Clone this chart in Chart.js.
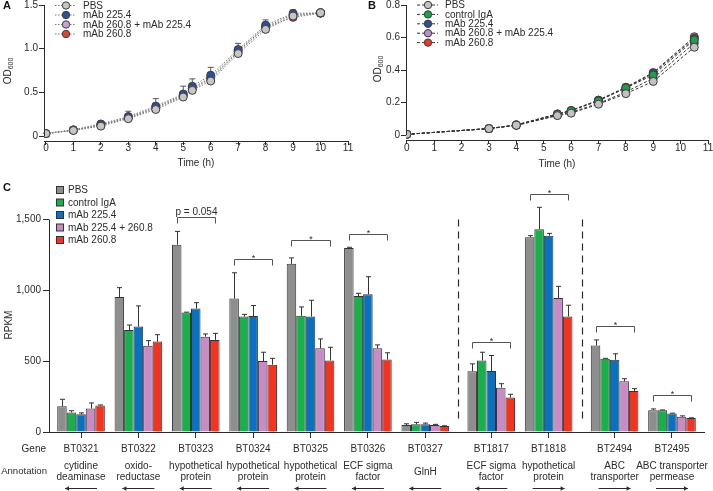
<!DOCTYPE html>
<html>
<head>
<meta charset="utf-8">
<script src="https://cdn.jsdelivr.net/npm/chart.js@4.4.1/dist/chart.umd.min.js"></script>
<style>
  body { margin: 0; background: #fff; width: 713px; height: 491px; position: relative; overflow: hidden; }
  canvas { position: absolute; }
  #chartA { left: 0; top: 0; }
  #chartB { left: 355px; top: 0; }
  #chartC { left: 0; top: 170px; }
</style>
</head>
<body>
<canvas id="chartA" width="355" height="170"></canvas>
<canvas id="chartB" width="358" height="170"></canvas>
<canvas id="chartC" width="713" height="321"></canvas>
<script>
// ---- Panel A: growth curves ----
const timeA = [0, 1, 2, 3, 4, 5, 5.33, 6, 7, 8, 9, 10];
const pbsA    = [0.03, 0.065, 0.115, 0.200, 0.305, 0.448, 0.524, 0.631, 0.945, 1.221, 1.374, 1.410];
const mab225A = [0.03, 0.073, 0.140, 0.225, 0.344, 0.482, 0.570, 0.697, 0.991, 1.270, 1.404, 1.410];
const comboA  = [0.03, 0.070, 0.130, 0.215, 0.330, 0.470, 0.550, 0.670, 0.975, 1.250, 1.390, 1.410];
const mab260A = [0.03, 0.068, 0.125, 0.210, 0.320, 0.460, 0.540, 0.655, 0.964, 1.245, 1.359, 1.405];
const errA225 = [0.005, 0.01, 0.02, 0.06, 0.085, 0.09, 0.085, 0.09, 0.07, 0.06, 0.04, 0.01];
const xTicksA = [0, 1, 2, 3, 4, 5, 6, 7, 8, 9, 10, 11];
const yTicksA = [0, 0.5, 1.0, 1.5];

// ---- Panel B: growth curves ----
const timeB = [0, 3, 4, 5.5, 6, 7, 8, 9, 10.5];
const pbsB    = [0.005, 0.040, 0.060, 0.120, 0.135, 0.190, 0.255, 0.330, 0.540];
const igaB    = [0.005, 0.040, 0.062, 0.128, 0.150, 0.210, 0.290, 0.370, 0.585];
const mab225B = [0.005, 0.040, 0.062, 0.130, 0.150, 0.215, 0.290, 0.380, 0.595];
const comboB  = [0.005, 0.041, 0.063, 0.130, 0.152, 0.215, 0.295, 0.385, 0.605];
const mab260B = [0.005, 0.040, 0.060, 0.122, 0.140, 0.195, 0.265, 0.350, 0.565];
const xTicksB = [0, 1, 2, 3, 4, 5, 6, 7, 8, 9, 10, 11];
const yTicksB = [0, 0.2, 0.4, 0.6, 0.8];

// ---- Panel C: RPKM bars ----
const genes = ['BT0321', 'BT0322', 'BT0323', 'BT0324', 'BT0325', 'BT0326', 'BT0327', 'BT1817', 'BT1818', 'BT2494', 'BT2495'];
const annotations = [
  ['cytidine', 'deaminase'], ['oxido-', 'reductase'], ['hypothetical', 'protein'], ['hypothetical', 'protein'],
  ['hypothetical', 'protein'], ['ECF sigma', 'factor'], ['GlnH'], ['ECF sigma', 'factor'],
  ['hypothetical', 'protein'], ['ABC', 'transporter'], ['ABC transporter', 'permease']
];
const strand = [-1, -1, -1, -1, -1, -1, -1, -1, 1, 1, 1];
const sectionOf = [0, 0, 0, 0, 0, 0, 0, 1, 1, 2, 2];

const pbsC    = [182, 953, 1322, 942, 1187, 1299, 49, 428, 1374, 610, 154];
const igaC    = [138, 720, 843, 815, 820, 960, 54, 505, 1432, 517, 154];
const mab225C = [126, 745, 871, 818, 815, 972, 54, 430, 1386, 510, 131];
const comboC  = [166, 608, 673, 501, 591, 591, 49, 313, 946, 358, 107];
const mab260C = [187, 638, 650, 475, 505, 512, 42, 243, 815, 290, 98];
const pbsSd    = [49, 66, 94, 182, 42, 5, 9, 53, 12, 40, 9];
const igaSd    = [12, 35, 3, 15, 63, 19, 14, 58, 154, 3, 2];
const mab225Sd = [9, 145, 42, 75, 115, 124, 9, 110, 16, 42, 2];
const comboSd  = [39, 37, 19, 62, 66, 24, 5, 28, 82, 18, 7];
const mab260Sd = [4, 49, 46, 45, 93, 47, 2, 23, 80, 16, 2];
const yTicksC = [0, 500, 1000, 1500];

const sigGenes   = ['BT0323', 'BT0324', 'BT0325', 'BT0326', 'BT1817', 'BT1818', 'BT2494', 'BT2495'];
const sigHeights = [1521, 1222, 1353, 1400, 633, 1678, 750, 264];
const sigLabels  = ['p = 0.054', '*', '*', '*', '*', '*', '*', '*'];

const FONT = '"Liberation Sans", Arial, Helvetica, sans-serif';
const INK = '#2b2b2b';
const SECTION_GAP = 0.15;
const genePos = genes.map((g, i) => i + sectionOf[i] * SECTION_GAP);

function drawOD(ctx, x, y) {
  ctx.save();
  ctx.translate(x, y);
  ctx.rotate(-Math.PI / 2);
  ctx.fillStyle = INK;
  ctx.textBaseline = 'middle';
  ctx.textAlign = 'left';
  ctx.font = '10px ' + FONT;
  const w1 = ctx.measureText('OD').width;
  ctx.font = '7px ' + FONT;
  const w2 = ctx.measureText('600').width;
  const sx = -(w1 + w2) / 2;
  ctx.font = '10px ' + FONT;
  ctx.fillText('OD', sx, 0);
  ctx.font = '7px ' + FONT;
  ctx.fillText('600', sx + w1, 3);
  ctx.restore();
}

// error bars + axis line + legend for the growth panels
const growthDecor = {
  id: 'growthDecor',
  beforeDatasetsDraw(chart, args, o) {
    const ctx = chart.ctx, xs = chart.scales.x, ys = chart.scales.y;
    ctx.save();
    ctx.strokeStyle = '#555';
    ctx.lineWidth = 1;
    chart.data.datasets.forEach(ds => {
      if (!ds.errors) return;
      ds.data.forEach((p, i) => {
        const e = ds.errors[i];
        if (!e) return;
        const x = xs.getPixelForValue(p.x);
        const y0 = ys.getPixelForValue(p.y), y1 = ys.getPixelForValue(p.y + e);
        ctx.beginPath();
        ctx.moveTo(x, y0); ctx.lineTo(x, y1);
        ctx.moveTo(x - 3, y1); ctx.lineTo(x + 3, y1);
        ctx.stroke();
      });
    });
    ctx.restore();
  },
  afterDraw(chart, args, o) {
    const ctx = chart.ctx, ys = chart.scales.y, area = chart.chartArea;
    ctx.save();
    ctx.strokeStyle = INK;
    ctx.lineWidth = 1;
    const ax = Math.round(area.left) + 0.5;
    ctx.beginPath();
    ctx.moveTo(ax, ys.getPixelForValue(o.yTop));
    ctx.lineTo(ax, ys.getPixelForValue(0));
    ctx.stroke();

    ctx.fillStyle = '#111';
    ctx.font = 'bold 11px ' + FONT;
    ctx.textAlign = 'left';
    ctx.textBaseline = 'middle';
    ctx.fillText(o.letter, o.letterX, o.letterY);
    drawOD(ctx, o.odX, o.odY);

    chart.data.datasets.forEach((ds, i) => {
      const y = o.legendY + i * o.legendDy;
      ctx.setLineDash(ds.borderDash);
      ctx.strokeStyle = ds.borderColor;
      ctx.beginPath();
      ctx.moveTo(o.legendX, y); ctx.lineTo(o.legendX + 21, y);
      ctx.stroke();
      ctx.setLineDash([]);
      ctx.fillStyle = ds.pointBackgroundColor;
      ctx.strokeStyle = ds.pointBorderColor;
      ctx.beginPath();
      ctx.arc(o.legendX + 11, y, 3.7, 0, Math.PI * 2);
      ctx.fill(); ctx.stroke();
      ctx.fillStyle = INK;
      ctx.font = '10px ' + FONT;
      ctx.fillText(ds.label, o.legendX + 28, y + 0.5);
    });
    ctx.restore();
  }
};

function growthSet(label, ts, vals, color, dash, lineColor, errors) {
  return {
    label, data: ts.map((t, i) => ({ x: t, y: vals[i] })),
    borderColor: lineColor, borderWidth: 1, borderDash: dash, tension: 0,
    pointRadius: 4, pointBackgroundColor: color, pointBorderColor: '#3c3c3c', pointBorderWidth: 1,
    errors
  };
}

function growthOptions(p) {
  return {
    responsive: false, animation: false, devicePixelRatio: 1,
    layout: { padding: p.padding },
    plugins: { legend: { display: false }, tooltip: { enabled: false }, growthDecor: p.decor },
    scales: {
      x: {
        type: 'linear', min: p.xMin, max: 11,
        afterBuildTicks: s => { s.ticks = p.xTicks.map(v => ({ value: v })); },
        afterFit: s => { s.height = p.xHeight; },
        grid: { drawOnChartArea: false, tickLength: 4, color: INK },
        border: { display: true, color: INK, width: 1 },
        ticks: { font: { family: FONT, size: 10, lineHeight: 1 }, color: INK, padding: p.xPad, maxRotation: 0, autoSkip: false },
        title: { display: true, text: 'Time (h)', font: { family: FONT, size: 10 }, color: INK, padding: { top: 0, bottom: 0 } }
      },
      y: {
        min: p.yMin, max: p.yMax,
        afterBuildTicks: s => { s.ticks = p.yTicks.map(v => ({ value: v })); },
        afterFit: s => { s.width = p.yWidth; },
        grid: { drawOnChartArea: false, tickLength: 5, color: INK },
        border: { display: false },
        ticks: {
          font: { family: FONT, size: 10, lineHeight: 0.6 }, color: INK, padding: 1,
          callback: v => (v === 0 ? '0' : v.toFixed(1))
        }
      }
    }
  };
}

new Chart(document.getElementById('chartA'), {
  type: 'line',
  data: {
    datasets: [
      growthSet('PBS', timeA, pbsA, '#c6c6c6', [1.5, 1.5], '#777'),
      growthSet('mAb 225.4', timeA, mab225A, '#2f4f9c', [1.5, 1.5], '#777', errA225),
      growthSet('mAb 260.8 + mAb 225.4', timeA, comboA, '#c9a2d3', [1.5, 1.5], '#777'),
      growthSet('mAb 260.8', timeA, mab260A, '#e2452f', [1.5, 1.5], '#777')
    ]
  },
  options: growthOptions({
    padding: { left: 0, right: 7, top: 5, bottom: 1 },
    xMin: -0.07, xTicks: xTicksA, xHeight: 28, xPad: -1.5,
    yMin: -0.055, yMax: 1.5, yTicks: yTicksA, yWidth: 44,
    decor: { yTop: 1.5, letter: 'A', letterX: 3, letterY: 6, odX: 8, odY: 71, legendX: 55, legendY: 5.5, legendDy: 9.5 }
  }),
  plugins: [growthDecor]
});

new Chart(document.getElementById('chartB'), {
  type: 'line',
  data: {
    datasets: [
      growthSet('PBS', timeB, pbsB, '#c2c2c2', [3, 2], '#333'),
      growthSet('control IgA', timeB, igaB, '#1f9e4a', [3, 2], '#333'),
      growthSet('mAb 225.4', timeB, mab225B, '#2d4f96', [3, 2], '#333'),
      growthSet('mAb 260.8 + mAb 225.4', timeB, comboB, '#b98fcb', [3, 2], '#333'),
      growthSet('mAb 260.8', timeB, mab260B, '#df3b2a', [3, 2], '#333')
    ]
  },
  options: growthOptions({
    padding: { left: 0, right: 4, top: 3, bottom: 0 },
    xMin: -0.03, xTicks: xTicksB, xHeight: 30, xPad: -1,
    yMin: -0.03, yMax: 0.8, yTicks: yTicksB, yWidth: 51,
    decor: { yTop: 0.8, letter: 'B', letterX: 13, letterY: 6, odX: 23, odY: 69, legendX: 62, legendY: 5, legendDy: 9.4 }
  }),
  plugins: [growthDecor]
});

// ---- Panel C ----
const barSeries = [
  { label: 'PBS', values: pbsC, sd: pbsSd, color: '#8e8e8e' },
  { label: 'control IgA', values: igaC, sd: igaSd, color: '#17b04b' },
  { label: 'mAb 225.4', values: mab225C, sd: mab225Sd, color: '#0a70c2' },
  { label: 'mAb 225.4 + 260.8', values: comboC, sd: comboSd, color: '#c88bc5' },
  { label: 'mAb 260.8', values: mab260C, sd: mab260Sd, color: '#f3321f' }
];

const rnaDecor = {
  id: 'rnaDecor',
  afterDatasetsDraw(chart) {
    const ctx = chart.ctx, ys = chart.scales.y;
    ctx.save();
    ctx.strokeStyle = '#333';
    ctx.lineWidth = 1;
    chart.data.datasets.forEach((ds, d) => {
      chart.getDatasetMeta(d).data.forEach((bar, i) => {
        const top = ys.getPixelForValue(ds.data[i].y + ds.errors[i]);
        const x = Math.round(bar.x) + 0.5;
        ctx.beginPath();
        ctx.moveTo(x, bar.y); ctx.lineTo(x, top);
        ctx.moveTo(x - 2.5, top); ctx.lineTo(x + 2.5, top);
        ctx.stroke();
      });
    });
    ctx.restore();
  },
  afterDraw(chart) {
    const ctx = chart.ctx, xs = chart.scales.x, ys = chart.scales.y, area = chart.chartArea;
    ctx.save();
    ctx.strokeStyle = INK;
    ctx.lineWidth = 1;
    // y axis line from 0 to 1,500
    const ax = Math.round(area.left) + 0.5;
    ctx.beginPath();
    ctx.moveTo(ax, ys.getPixelForValue(yTicksC[yTicksC.length - 1]));
    ctx.lineTo(ax, ys.getPixelForValue(0));
    ctx.stroke();

    // dashed separators between sections
    ctx.setLineDash([7, 5]);
    ctx.lineWidth = 1.2;
    for (let i = 1; i < genes.length; i++) {
      if (sectionOf[i] === sectionOf[i - 1]) continue;
      const x = Math.round((xs.getPixelForValue(genePos[i]) + xs.getPixelForValue(genePos[i - 1])) / 2) + 0.5;
      ctx.beginPath();
      ctx.moveTo(x, ys.getPixelForValue(1500));
      ctx.lineTo(x, ys.getPixelForValue(60));
      ctx.stroke();
    }
    ctx.setLineDash([]);

    // significance brackets
    const first = chart.getDatasetMeta(0), last = chart.getDatasetMeta(chart.data.datasets.length - 1);
    ctx.strokeStyle = '#555';
    ctx.lineWidth = 1;
    ctx.fillStyle = INK;
    ctx.textAlign = 'center';
    ctx.textBaseline = 'alphabetic';
    sigGenes.forEach((g, k) => {
      const i = genes.indexOf(g);
      const x1 = Math.round(first.data[i].x) + 0.5, x2 = Math.round(last.data[i].x) + 0.5;
      const yb = Math.round(ys.getPixelForValue(sigHeights[k])) + 0.5;
      ctx.beginPath();
      ctx.moveTo(x1, yb + 6); ctx.lineTo(x1, yb); ctx.lineTo(x2, yb); ctx.lineTo(x2, yb + 6);
      ctx.stroke();
      if (sigLabels[k] === '*') {
        ctx.font = '9px ' + FONT;
        ctx.fillText('*', (x1 + x2) / 2, yb + 1.5);
      } else {
        ctx.font = '10px ' + FONT;
        ctx.fillText(sigLabels[k], (x1 + x2) / 2, yb - 3);
      }
    });

    // legend
    ctx.textAlign = 'left';
    ctx.textBaseline = 'middle';
    ctx.font = '10px ' + FONT;
    barSeries.forEach((s, i) => {
      const y = 20 + i * 12.5;
      ctx.fillStyle = s.color;
      ctx.fillRect(56, y - 3.5, 7, 7);
      ctx.strokeStyle = '#333';
      ctx.strokeRect(56.5, y - 3.5, 7, 7);
      ctx.fillStyle = INK;
      ctx.fillText(s.label, 68, y + 0.5);
    });

    // panel letter and y title
    ctx.fillStyle = '#111';
    ctx.font = 'bold 11px ' + FONT;
    ctx.fillText('C', 3, 18);
    ctx.save();
    ctx.translate(9, 155);
    ctx.rotate(-Math.PI / 2);
    ctx.textAlign = 'center';
    ctx.font = '10px ' + FONT;
    ctx.fillStyle = INK;
    ctx.fillText('RPKM', 0, 0);
    ctx.restore();

    // gene / annotation rows
    ctx.fillStyle = INK;
    ctx.font = '10px ' + FONT;
    ctx.textAlign = 'right';
    ctx.fillText('Gene', 46, 279);
    ctx.font = '9.6px ' + FONT;
    ctx.fillText('Annotation', 47, 301.5);
    ctx.font = '10px ' + FONT;
    ctx.textAlign = 'center';
    ctx.strokeStyle = INK;
    ctx.lineWidth = 1;
    genes.forEach((g, i) => {
      const x = xs.getPixelForValue(genePos[i]);
      ctx.fillText(g, x, 279);
      const ann = annotations[i];
      if (ann.length === 1) {
        ctx.fillText(ann[0], x, 302);
      } else {
        ctx.fillText(ann[0], x, 296.5);
        ctx.fillText(ann[1], x, 307.5);
      }
      const ay = 318.5, half = 16, dir = strand[i];
      ctx.beginPath();
      ctx.moveTo(x - half, ay); ctx.lineTo(x + half, ay);
      ctx.stroke();
      const tip = x + dir * half;
      ctx.beginPath();
      ctx.moveTo(tip, ay);
      ctx.lineTo(tip - dir * 4, ay - 2.2);
      ctx.lineTo(tip - dir * 4, ay + 2.2);
      ctx.closePath();
      ctx.fill();
    });
    ctx.restore();
  }
};

const PAD_X = 0.558;
new Chart(document.getElementById('chartC'), {
  type: 'bar',
  data: {
    datasets: barSeries.map(s => ({
      label: s.label,
      data: genePos.map((x, i) => ({ x, y: s.values[i] })),
      errors: s.sd,
      backgroundColor: s.color,
      borderColor: '#333',
      borderWidth: 1,
      categoryPercentage: 0.83,
      barPercentage: 1
    }))
  },
  options: {
    responsive: false, animation: false, devicePixelRatio: 1,
    layout: { padding: { left: 0, right: 9, top: 5, bottom: 0 } },
    plugins: { legend: { display: false }, tooltip: { enabled: false } },
    scales: {
      x: {
        type: 'linear', offset: false,
        min: genePos[0] - PAD_X, max: genePos[genePos.length - 1] + PAD_X,
        afterBuildTicks: s => { s.ticks = genePos.map(v => ({ value: v })); },
        afterFit: s => { s.height = 59; },
        grid: { offset: false, drawOnChartArea: false, tickLength: 6, color: INK },
        border: { display: true, color: INK, width: 1 },
        ticks: { display: false }
      },
      y: {
        min: 0, max: 1800,
        afterBuildTicks: s => { s.ticks = yTicksC.map(v => ({ value: v })); },
        afterFit: s => { s.width = 49; },
        grid: { drawOnChartArea: false, tickLength: 6, color: INK },
        border: { display: false },
        ticks: {
          font: { family: FONT, size: 10, lineHeight: 1 }, color: INK, padding: 2,
          callback: v => v.toLocaleString('en-US')
        }
      }
    }
  },
  plugins: [rnaDecor]
});
</script>
</body>
</html>
